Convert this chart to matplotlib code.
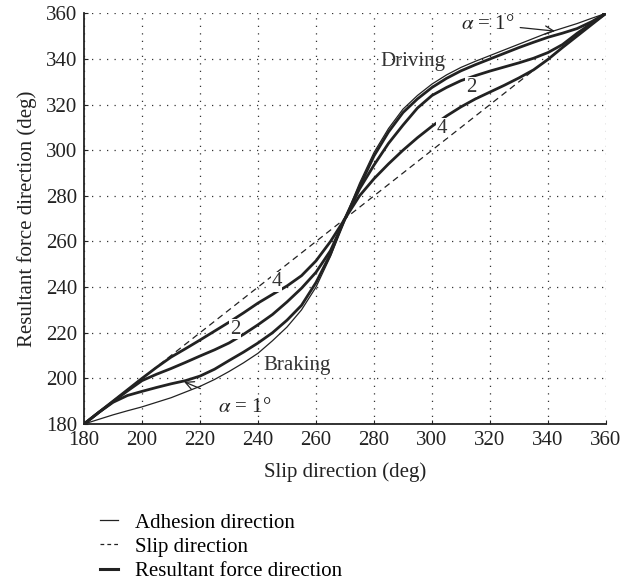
import matplotlib
matplotlib.use("Agg")
import matplotlib.pyplot as plt
from matplotlib.lines import Line2D

plt.rcParams['font.family'] = ['Liberation Serif', 'DejaVu Serif']
plt.rcParams['mathtext.fontset'] = 'stix'

slip_deg = list(range(180, 361, 5))

adhesion_dir = [180, 182, 184, 185.8, 187.5, 189.5, 191.5, 194, 196.5, 199.5,
                203, 206.8, 211, 216.5, 222.5, 230, 240, 253.5, 270, 285.5,
                299, 309.5, 318, 324, 329, 333, 336.3, 339, 341.5, 344,
                346.5, 349, 351.5, 353.5, 355.5, 357.8, 360]

resultant_a1 = [180, 185, 189.5, 192.5, 194.3, 196, 197.6, 199, 201, 204,
                207.8, 211.5, 215.5, 220, 225.5, 232, 242, 254.5, 270, 284,
                297.5, 308, 316.5, 322.5, 327.5, 331.5, 334.8, 337.5, 340, 342.5,
                345, 347.3, 349.5, 351.3, 353.3, 356.3, 360]

resultant_a2 = [180, 185, 189.8, 194.5, 199, 201.8, 204.3, 207, 209.8, 212.5,
                215.5, 219.3, 223.5, 228, 233.5, 239.5, 246.5, 256, 270, 283,
                293.5, 303, 311, 318.5, 324, 327.5, 330.5, 332.7, 334.7, 336.5,
                338.3, 340.3, 342.8, 346.3, 351.2, 355.6, 360]

resultant_a4 = [180, 185, 190, 195, 200, 204.8, 209.3, 213, 216.8, 220.7,
                224.6, 228.7, 233, 236.8, 240.5, 245, 251.5, 260, 270, 280,
                287.5, 294, 300, 305.5, 310.5, 315, 319, 322.5, 325.5, 328.5,
                331.7, 335.2, 339.8, 345, 350, 355, 360]

ticks = [180, 200, 220, 240, 260, 280, 300, 320, 340, 360]
legend_labels = ["Adhesion direction", "Slip direction", "Resultant force direction"]

fig = plt.figure(figsize=(6.36, 5.87), dpi=100)
ax = fig.add_axes([0.1321, 0.2777, 0.8207, 0.6996])

ax.plot(slip_deg, slip_deg, color='#222222', lw=0.9, ls=(0, (5, 3.5)), zorder=2)
ax.plot(slip_deg, adhesion_dir, color='#222222', lw=0.9, zorder=3)
for r in (resultant_a1, resultant_a2, resultant_a4):
    ax.plot(slip_deg, r, color='#222222', lw=2.0, zorder=3,
            solid_joinstyle='round', solid_capstyle='round')

ax.set_xlim(180, 360)
ax.set_ylim(180, 360)
ax.set_xticks(ticks)
ax.set_yticks(ticks)
ax.tick_params(direction='in', length=3, labelsize=15, colors='#222222', pad=5)
ax.grid(True, color='#333333', ls=(0, (1, 5)), lw=0.9)
for s in ('top', 'right'):
    ax.spines[s].set_visible(False)
for s in ('left', 'bottom'):
    ax.spines[s].set_linewidth(1.3)
    ax.spines[s].set_color('#222222')

ax.set_xlabel("Slip direction (deg)", fontsize=15, color='#222222', labelpad=9)
ax.set_ylabel("Resultant force direction (deg)", fontsize=15, color='#222222', labelpad=6)

tk = dict(fontsize=15, color='#333333', ha='center', va='center', zorder=5)
wb = dict(facecolor='white', edgecolor='none', pad=0.5)
ax.text(293.4, 339.0, "Driving", **tk)
ax.text(253.3, 205.5, "Braking", **tk)
ax.text(313.4, 327.7, "2", bbox=wb, **tk)
ax.text(303.3, 309.7, "4", bbox=wb, **tk)
ax.text(232.1, 221.5, "2", bbox=wb, **tk)
ax.text(246.4, 242.4, "4", bbox=wb, **tk)

ax.annotate(r"$\alpha$ = 1°", xy=(342.4, 352.2), xytext=(319.3, 355.2),
            fontsize=15, color='#222222', ha='center', va='center',
            arrowprops=dict(arrowstyle='->', color='#222222', lw=0.9,
                            shrinkA=2, shrinkB=0))
ax.annotate(r"$\alpha$ = 1°", xy=(214.5, 198.5), xytext=(235.5, 187.3),
            fontsize=15, color='#222222', ha='center', va='center',
            arrowprops=dict(arrowstyle='->', color='#222222', lw=0.9,
                            shrinkA=12, shrinkB=0))

handles = [Line2D([], [], color='#222222', lw=0.9),
           Line2D([], [], color='#222222', lw=0.9, ls=(0, (3, 2.5))),
           Line2D([], [], color='#222222', lw=2.2)]
fig.legend(handles, legend_labels, loc='upper left', bbox_to_anchor=(0.157, 0.126),
           frameon=False, fontsize=15, handlelength=0.87, handletextpad=0.8,
           labelspacing=0.22, borderpad=0, borderaxespad=0)

fig.savefig("out.png", dpi=100)
